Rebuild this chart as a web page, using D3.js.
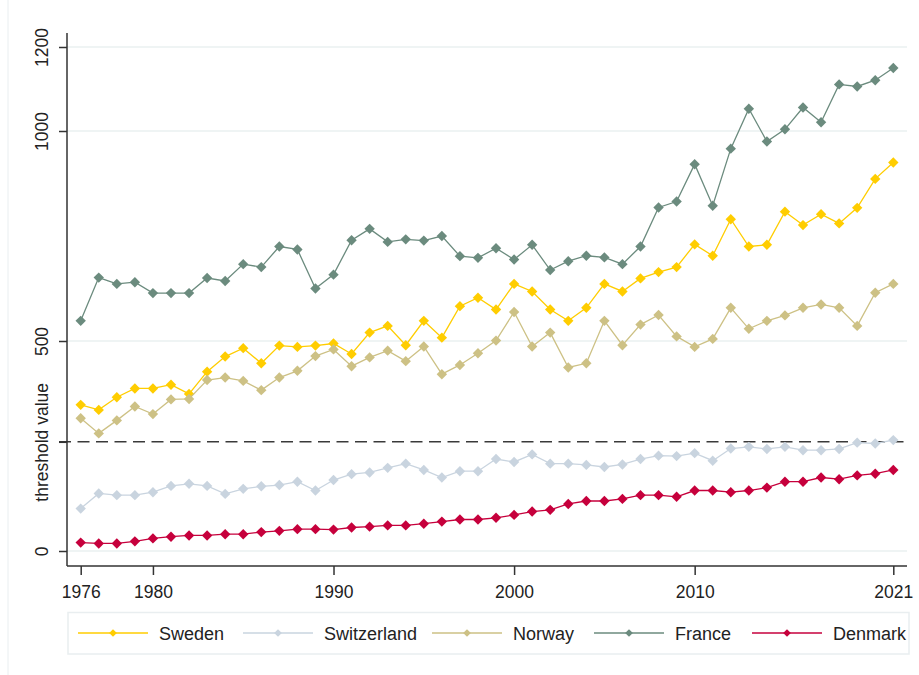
<!DOCTYPE html>
<html>
<head>
<meta charset="utf-8">
<script src="https://cdn.jsdelivr.net/npm/d3@7"></script>
<style>
  body { margin: 0; background: #fff; }
  svg { display: block; font-family: "Liberation Sans", Arial, sans-serif; }
</style>
</head>
<body>
<script>
// values, one per year 1976..2021
const years = d3.range(1976, 2022);
const sweden = [348,336,366,387,387,396,374,427,463,483,447,489,486,489,494,469,520,536,490,548,508,583,603,575,636,618,575,548,579,636,618,649,664,676,730,703,790,725,729,808,776,802,780,817,886,925];
const switzerland = [101,137,133,133,140,155,160,155,136,148,154,157,165,144,169,183,187,198,208,193,175,190,190,219,212,230,208,208,205,200,206,219,227,226,233,215,244,248,243,248,240,240,243,258,256,264];
const norway = [316,280,311,344,326,361,362,407,413,405,383,413,429,464,480,440,461,477,452,487,421,443,471,501,569,487,520,437,447,548,490,539,562,511,486,505,579,529,548,561,579,587,579,536,615,636];
const france = [548,651,636,640,614,614,614,650,643,683,676,725,718,625,658,740,767,736,742,739,750,702,698,721,694,729,669,690,703,699,683,725,818,832,921,822,958,1053,975,1004,1056,1021,1111,1106,1121,1150];
const denmark = [20,18,18,23,30,34,37,37,40,40,45,48,52,52,51,56,58,61,61,65,70,75,75,79,86,94,98,112,119,119,124,133,133,129,144,144,140,144,151,165,165,175,171,180,184,193];

const seriesNames = ['Sweden', 'Switzerland', 'Norway', 'France', 'Denmark'];
const seriesColors = ['#ffcd00', '#c9d4df', '#cdc185', '#6b8b7e', '#c6003c'];
const threshold = 260;
const yTicks = [0, 500, 1000, 1200];
const xTicks = [1976, 1980, 1990, 2000, 2010, 2021];

const width = 919;
const height = 675;

const svg = d3.select('body').append('svg')
  .attr('width', width)
  .attr('height', height);

// faint frame line on the left edge
svg.append('line')
  .attr('x1', 8).attr('x2', 8)
  .attr('y1', 0).attr('y2', height)
  .attr('stroke', '#e9eef0');

const x = d3.scaleLinear().domain([1976, 2021]).range([80.7, 893.3]);
const y = d3.scaleLinear().domain([0, 1200]).range([551, 47]);

const axisLeftX = 67;
const axisBottomY = 566;
const plotRight = 907;

// gridlines
svg.append('g')
  .selectAll('line')
  .data(yTicks)
  .join('line')
  .attr('x1', axisLeftX).attr('x2', plotRight)
  .attr('y1', d => y(d)).attr('y2', d => y(d))
  .attr('stroke', '#eaf0f1')
  .attr('stroke-width', 1.5);

// threshold line
svg.append('line')
  .attr('x1', axisLeftX - 8).attr('x2', plotRight)
  .attr('y1', y(threshold)).attr('y2', y(threshold))
  .attr('stroke', '#3a3a3a')
  .attr('stroke-width', 1.6)
  .attr('stroke-dasharray', '12,6.5');

// y axis
const yAxis = svg.append('g')
  .attr('transform', `translate(${axisLeftX},0)`)
  .call(d3.axisLeft(y)
    .tickValues(yTicks.concat([threshold]))
    .tickSize(8)
    .tickFormat(d => d === threshold ? 'threshold value' : d));
yAxis.select('.domain').attr('d', `M0,33V${axisBottomY}`);
yAxis.selectAll('line, path').attr('stroke', '#333').attr('stroke-width', 1.5);
yAxis.selectAll('text')
  .attr('x', null).attr('dy', null)
  .attr('transform', 'translate(-19,0) rotate(-90)')
  .attr('text-anchor', 'middle')
  .attr('font-size', 17.5)
  .attr('fill', '#222');

// x axis
const xAxis = svg.append('g')
  .attr('transform', `translate(0,${axisBottomY})`)
  .call(d3.axisBottom(x)
    .tickValues(xTicks)
    .tickSize(9)
    .tickFormat(d3.format('d')));
xAxis.select('.domain').attr('d', `M${axisLeftX},0H${plotRight}`);
xAxis.selectAll('line, path').attr('stroke', '#333').attr('stroke-width', 1.5);
xAxis.selectAll('text')
  .attr('y', 32).attr('dy', null)
  .attr('font-size', 17.5)
  .attr('fill', '#222');

// series
const allSeries = [sweden, switzerland, norway, france, denmark];
const line = d3.line()
  .x((d, i) => x(years[i]))
  .y(d => y(d));
const diamond = d3.symbol().type(d3.symbolSquare).size(54);

allSeries.forEach((values, k) => {
  const g = svg.append('g');
  g.append('path')
    .datum(values)
    .attr('d', line)
    .attr('fill', 'none')
    .attr('stroke', seriesColors[k])
    .attr('stroke-width', 1.3);
  g.selectAll('path.pt')
    .data(values)
    .join('path')
    .attr('class', 'pt')
    .attr('d', diamond)
    .attr('transform', (d, i) => `translate(${x(years[i])},${y(d)}) rotate(45)`)
    .attr('fill', seriesColors[k]);
});

// legend
const legend = svg.append('g');
legend.append('rect')
  .attr('x', 68).attr('y', 612.5)
  .attr('width', 841).attr('height', 41.5)
  .attr('fill', '#fff')
  .attr('stroke', '#e9eef0')
  .attr('stroke-width', 1.5);

const legendStarts = [78, 243, 432, 594, 752];
const legendY = 633;
const key = d3.symbol().type(d3.symbolSquare).size(30);
seriesNames.forEach((name, k) => {
  const lx = legendStarts[k];
  legend.append('line')
    .attr('x1', lx).attr('x2', lx + 70)
    .attr('y1', legendY).attr('y2', legendY)
    .attr('stroke', seriesColors[k])
    .attr('stroke-width', 1.3);
  legend.append('path')
    .attr('d', key)
    .attr('transform', `translate(${lx + 35},${legendY}) rotate(45)`)
    .attr('fill', seriesColors[k]);
  legend.append('text')
    .attr('x', lx + 81)
    .attr('y', legendY + 6.5)
    .attr('font-size', 18)
    .attr('fill', '#222')
    .text(name);
});
</script>
</body>
</html>
